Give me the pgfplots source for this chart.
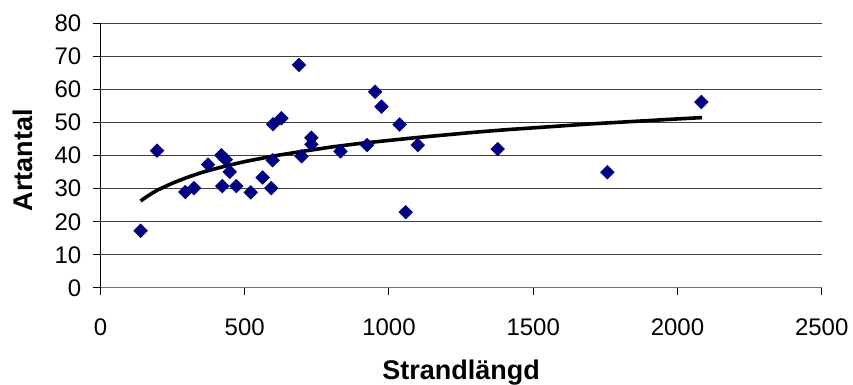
\documentclass[border=0pt]{standalone}
\usepackage{fontspec}
\setmainfont{Liberation Sans}
\usepackage{pgfplots}
\pgfplotsset{compat=1.18}
\definecolor{navy}{RGB}{0,0,128}
\begin{document}
\begin{tikzpicture}
\useasboundingbox (-50.25pt,-48.5pt) rectangle (376.25pt,144pt);
\begin{axis}[
  at={(0,0)}, anchor=south west,
  scale only axis,
  width=360.6pt, height=132.35pt,
  xmin=0, xmax=2500, ymin=0, ymax=80,
  xtick={0,500,...,2500}, ytick={0,10,...,80},
  axis lines=left,
  axis line style={-, line width=0.5pt},
  x axis line style={black!55},
  y axis line style={black},
  tick align=outside,
  major tick length=3.6pt,
  tick style={line width=0.5pt, black},
  ymajorgrids,
  grid style={black!75, line width=0.5pt},
  /pgf/number format/assume math mode=true,
  /pgf/number format/1000 sep={},
  tick label style={font=\fontsize{12}{14}\selectfont},
  xticklabel style={anchor=base, yshift=-20pt},
  yticklabel style={anchor=east, xshift=-2.5pt},
  xlabel={\textbf{Strandlängd}},
  ylabel={\textbf{Artantal}},
  label style={font=\fontsize{13.5}{15}\selectfont},
  xlabel style={at={(axis description cs:0.5,0)}, anchor=base, yshift=-46pt},
  ylabel style={at={(axis description cs:-0.0937,0.483)}, anchor=base},
  clip=false,
]
\addplot[black, line width=1.8pt, line join=round] coordinates {
  (139,26.3) (160,27.6) (180,28.7) (200,29.7) (250,31.7) (300,33.4)
  (350,34.9) (400,36.1) (450,37.2) (500,38.2) (600,39.9) (700,41.3)
  (800,42.6) (900,43.7) (1000,44.6) (1100,45.5) (1200,46.3) (1300,47.1)
  (1400,47.8) (1500,48.4) (1600,49.0) (1700,49.6) (1800,50.1) (1900,50.6)
  (2000,51.1) (2085,51.5)
};
\addplot[only marks, mark=square*, mark size=2.35pt,
  mark options={rotate=45, fill=navy, draw=navy}] coordinates {
  (139,17.3) (196,41.5) (294,29.0) (324,30.2) (373,37.3) (419,40.1)
  (434,38.8) (422,30.8) (448,35.1) (471,30.8) (521,28.9) (562,33.4)
  (592,30.2) (597,38.6) (598,49.5) (627,51.3) (688,67.4) (697,39.8)
  (731,45.4) (731,43.4) (832,41.3) (924,43.2) (952,59.3) (974,54.8)
  (1037,49.4) (1058,22.9) (1100,43.2) (1377,42.0) (1757,35.0) (2083,56.2)
};
\end{axis}
\end{tikzpicture}
\end{document}
